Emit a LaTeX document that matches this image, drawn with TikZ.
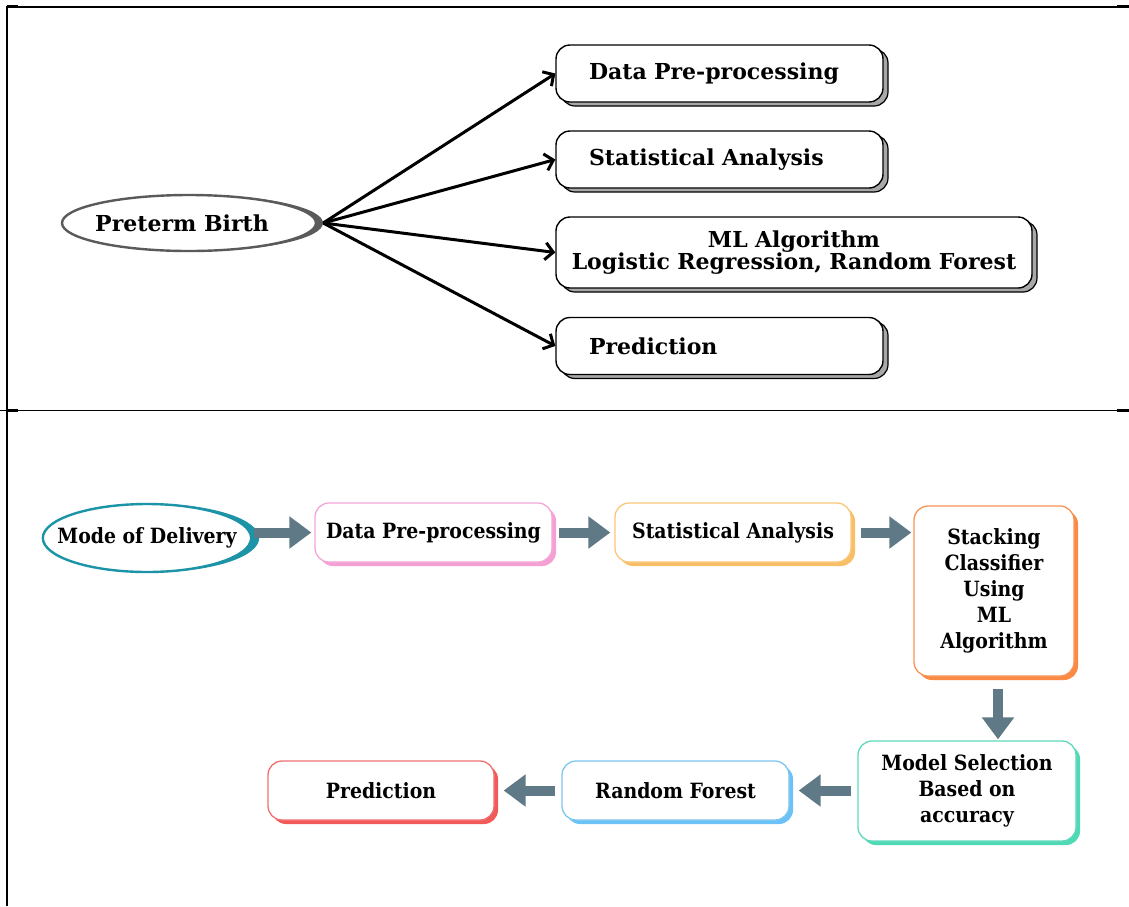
\documentclass[tikz,border=0pt]{standalone}
\usepackage{fontspec}
\setmainfont{DejaVu Serif}
\newfontfamily\condfont{DejaVu Serif Condensed}
\usetikzlibrary{arrows.meta,shapes.geometric,shadows}

\definecolor{ringgray}{HTML}{5A5A5A}
\definecolor{boxshade}{HTML}{A8A8A8}
\definecolor{modeteal}{HTML}{1C93A6}
\definecolor{flowgray}{HTML}{5F7A86}
\definecolor{pinkline}{HTML}{F2A7D8}
\definecolor{pinkshade}{HTML}{F5A0D5}
\definecolor{sandline}{HTML}{F9C67A}
\definecolor{sandshade}{HTML}{F8BF66}
\definecolor{orangeline}{HTML}{F99456}
\definecolor{orangeshade}{HTML}{FB8A45}
\definecolor{mintline}{HTML}{5ED9BC}
\definecolor{mintshade}{HTML}{4FD9B5}
\definecolor{skyline}{HTML}{7DC6F0}
\definecolor{skyshade}{HTML}{6CC2F7}
\definecolor{redline}{HTML}{F07070}
\definecolor{redshade}{HTML}{F25A5A}

\def \topFont {\fontsize{22}{21.5}\selectfont\bfseries}
\def \lowFont {\condfont\fontsize{21}{26}\selectfont\bfseries}

\tikzset{
  topbox/.style={draw=black, line width=1.4pt, fill=white, rounded corners=14pt,
    minimum height=57pt, inner xsep=33pt, align=left, font=\topFont,
    general shadow={shadow xshift=5pt, shadow yshift=-4pt, fill=boxshade,
      draw=black, line width=1.2pt}},
  topline/.style={line width=3pt, -{Straight Barb[length=8pt,width=17pt]}},
  lowbox/.style={draw=#1line, line width=1.3pt, fill=white, rounded corners=14pt,
    inner sep=2pt, align=center, font=\lowFont,
    general shadow={shadow xshift=4pt, shadow yshift=-4pt, fill=#1shade}},
  fatarrow/.style={flowgray, line width=10pt,
    -{Triangle[length=22pt,width=31pt]}}
}

\begin{document}
\begin{tikzpicture}[x=1pt,y=-1pt]
  \useasboundingbox (0,0) rectangle (1129,906);

  \draw[line width=1.5pt] (7,906) -- (7,7) -- (1129,7);
  \draw[line width=1.5pt] (0,410.5) -- (1129,410.5);
  \draw[line width=3pt] (7,6) -- (18,6) (1117,6) -- (1129,6);
  \draw[line width=3pt] (7,410) -- (18,410) (1117,410) -- (1129,410);

  \node[ellipse, draw=ringgray, line width=2.4pt, fill=white, minimum width=254pt,
    minimum height=56pt, inner xsep=-4pt, inner ysep=0pt, font=\topFont,
    general shadow={shadow xshift=7pt, shadow yshift=0pt, fill=ringgray}]
    (pb) at (189,223) {Preterm Birth\hspace*{14pt}};
  \coordinate (pbtip) at ([xshift=6pt]pb.east);

  \node[topbox, text width=261pt] (dp) at (719.5,73.5) {Data Pre-processing};
  \node[topbox, text width=261pt] (sa) at (719.5,159.5) {Statistical Analysis};
  \node[topbox, text width=450pt, inner xsep=13pt, minimum height=71pt, align=center]
    (ml) at (794,252.5) {ML Algorithm\\Logistic Regression, Random Forest};
  \node[topbox, text width=261pt] (pr) at (719.5,346) {Prediction};

  \foreach \target in {dp,sa,ml,pr}
    \draw[topline] (pbtip) -- (\target.west);

  \node[ellipse, draw=modeteal, line width=2.4pt, fill=white, minimum width=206pt,
    minimum height=68pt, inner xsep=-16pt, inner ysep=0pt, font=\lowFont,
    general shadow={shadow xshift=8pt, shadow yshift=0pt, fill=modeteal}]
    (md) at (147,538) {Mode of Delivery};

  \node[lowbox=pink, minimum width=237pt, minimum height=59pt] (dpl) at (433.5,532.5)
    {Data Pre-processing};
  \node[lowbox=sand, minimum width=236pt, minimum height=59pt] (sal) at (733,532.5)
    {Statistical Analysis};
  \node[lowbox=orange, minimum width=160pt, minimum height=170pt] (st) at (994,591)
    {Stacking\\Classifier\\Using\\ML\\Algorithm};
  \node[lowbox=mint, minimum width=218pt, minimum height=100pt] (ms) at (967,791)
    {Model Selection\\Based on\\accuracy};
  \node[lowbox=sky, minimum width=227pt, minimum height=59pt] (rf) at (675.5,790.5)
    {Random Forest};
  \node[lowbox=red, minimum width=226pt, minimum height=59pt] (prl) at (381,790.5)
    {Prediction};

  \draw[fatarrow, shorten <=2pt, shorten >=3pt] (md.east |- dpl.west) -- (dpl.west);
  \draw[fatarrow, shorten <=6pt, shorten >=4pt] (dpl.east) -- (sal.west);
  \draw[fatarrow, shorten <=9pt, shorten >=2pt] (sal.east) -- (st.west |- sal.east);
  \draw[fatarrow, shorten <=12pt, shorten >=1pt] ([xshift=4pt]st.south)
    -- ([xshift=4pt]st.south |- ms.north);
  \draw[fatarrow, shorten <=6pt, shorten >=9pt] (ms.west |- rf.east) -- (rf.east);
  \draw[fatarrow, shorten <=6pt, shorten >=9pt] (rf.west) -- (prl.east);
\end{tikzpicture}
\end{document}
